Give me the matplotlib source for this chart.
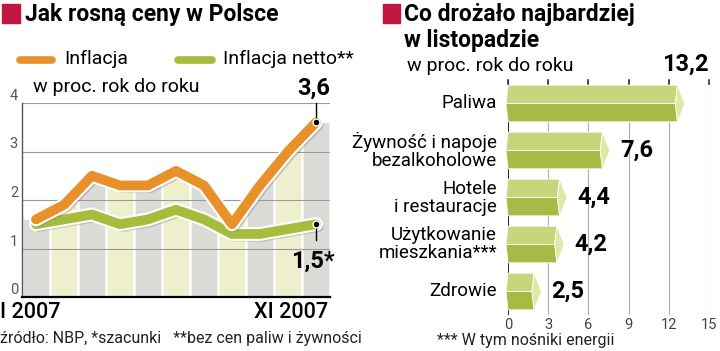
## import area
import numpy as np
import matplotlib
matplotlib.use('Agg')
import matplotlib.pyplot as plt
import matplotlib.patheffects as pe
from matplotlib.lines import Line2D
from matplotlib.patches import Rectangle

plt.rcParams['font.family'] = ['Roboto', 'DejaVu Sans']

## data area
miesiace = ['I', 'II', 'III', 'IV', 'V', 'VI', 'VII', 'VIII', 'IX', 'X', 'XI']
inflacja = [1.6, 1.9, 2.5, 2.3, 2.3, 2.6, 2.3, 1.5, 2.3, 3.0, 3.6]
inflacja_netto = [1.5, 1.6, 1.7, 1.5, 1.6, 1.8, 1.6, 1.3, 1.3, 1.4, 1.5]
y_ticks = [0, 1, 2, 3, 4]

kategorie = ['Paliwa', 'Żywność i napoje\nbezalkoholowe', 'Hotele\ni restauracje',
             'Użytkowanie\nmieszkania***', 'Zdrowie']
wartosci = [13.2, 7.6, 4.4, 4.2, 2.5]
x_ticks = [0, 3, 6, 9, 12, 15]

## colours
ORANGE = '#e8912b'
GREEN = '#a6bc3c'
CRIMSON = '#c0163f'
STRIPE_GRAY = '#dbdbd8'
STRIPE_YEL = '#eef0cd'
BAR_TOP = '#c7d67a'
BAR_BOT = '#a8b946'
BAR_CAP = '#e0e8a6'

W, H = 720, 351
fig = plt.figure(figsize=(W / 100, H / 100), dpi=100)


def fx(px):
    return px / W


def fy(py):
    return 1 - py / H


def fmt(v):
    return f'{v:.1f}'.replace('.', ',')


## header texts
fig.add_artist(Rectangle((fx(2), fy(23)), fx(18), 19 / H, color=CRIMSON, transform=fig.transFigure))
fig.text(fx(25), fy(15), 'Jak rosną ceny w Polsce', fontsize=16.5, fontweight='bold', va='center')
fig.add_artist(Rectangle((fx(383), fy(23)), fx(17), 19 / H, color=CRIMSON, transform=fig.transFigure))
fig.text(fx(404), fy(15), 'Co drożało najbardziej', fontsize=16.5, fontweight='bold', va='center')
fig.text(fx(404), fy(40), 'w listopadzie', fontsize=16.5, fontweight='bold', va='center')

# legenda
fig.add_artist(Line2D([fx(20), fx(52)], [fy(60), fy(60)], lw=5.5, color=ORANGE,
                      solid_capstyle='round', transform=fig.transFigure))
fig.text(fx(64), fy(59), 'Inflacja', fontsize=14, va='center')
fig.add_artist(Line2D([fx(178), fx(212)], [fy(60), fy(60)], lw=5.5, color=GREEN,
                      solid_capstyle='round', transform=fig.transFigure))
fig.text(fx(223), fy(59), 'Inflacja netto**', fontsize=14, va='center')
fig.text(fx(33), fy(87), 'w proc. rok do roku', fontsize=14, va='center')
fig.text(fx(407), fy(66), 'w proc. rok do roku', fontsize=14, va='center')

## left chart
ax1 = fig.add_axes([fx(22), fy(297), fx(308), 194 / H])
x = np.arange(len(miesiace))
ax1.set_xlim(-0.5, len(miesiace) - 0.5)
ax1.set_ylim(0, 4)

# paski pod linią inflacji
for i in x:
    xs = [i - 0.46, i, i + 0.46]
    ys = np.interp(xs, x, inflacja)
    ax1.fill_between(xs, 0, ys, color=STRIPE_GRAY if i % 2 == 0 else STRIPE_YEL, lw=0, zorder=1)

for v in y_ticks[1:]:
    ax1.axhline(v, color='#9a9a9a', lw=0.8, zorder=2)
for v in y_ticks:
    ax1.text(-0.026, v, str(v), transform=ax1.get_yaxis_transform(), ha='center', va='bottom',
             fontsize=10.5, color='#555555')

effects = [pe.SimpleLineShadow(offset=(2, -2), shadow_color='#777777', alpha=0.35),
           pe.Stroke(linewidth=10, foreground='white'), pe.Normal()]
ax1.plot(x, inflacja_netto, color=GREEN, lw=7, solid_capstyle='round', solid_joinstyle='round',
         path_effects=effects, zorder=3)
ax1.plot(x, inflacja, color=ORANGE, lw=7, solid_capstyle='round', solid_joinstyle='round',
         path_effects=effects, zorder=4)

# końcówki
ax1.plot([x[-1], x[-1]], [inflacja[-1], 4.0], color='black', lw=1, zorder=5, clip_on=False)
ax1.plot([x[-1], x[-1]], [inflacja_netto[-1], 1.17], color='black', lw=1, zorder=5, clip_on=False)
ax1.plot([x[-1], x[-1]], [inflacja[-1], inflacja_netto[-1]], 'o', color='black', ms=5,
         mec='white', mew=1, zorder=6)
ax1.text(x[-1] + 0.5, 4.06, fmt(inflacja[-1]), ha='right', va='bottom', fontsize=17,
         fontweight='bold', clip_on=False)
ax1.text(x[-1] + 0.68, 0.5, fmt(inflacja_netto[-1]) + '*', ha='right', va='bottom', fontsize=17,
         fontweight='bold', clip_on=False)

for s in ['top', 'right']:
    ax1.spines[s].set_visible(False)
ax1.spines['left'].set_color('#555555')
ax1.spines['left'].set_linewidth(1)
ax1.spines['bottom'].set_color('black')
ax1.spines['bottom'].set_linewidth(1.6)
ax1.set_xticks([])
ax1.set_yticks([])

fig.text(fx(0), fy(312), miesiace[0] + ' 2007', fontsize=15.5, fontweight='medium', va='center')
fig.text(fx(328), fy(312), miesiace[-1] + ' 2007', fontsize=15.5, fontweight='medium', va='center', ha='right')
fig.text(fx(0), fy(339), 'źródło: NBP, *szacunki   **bez cen paliw i żywności', fontsize=11.5,
         va='center', color='#222222')

## right chart
ax2 = fig.add_axes([fx(508), fy(315), fx(201), 235 / H])
ax2.set_xlim(0, 15)
ax2.set_ylim(len(kategorie) - 0.5, -0.5)
for v in x_ticks[1:]:
    ax2.axvline(v, color='#b0b0b0', lw=0.8, zorder=1)
ax2.axvline(0, color='black', lw=1.2, zorder=1)

h = 0.39
d = 0.55
e = 0.15
for i, v in enumerate(wartosci):
    top = [(-e, i), (0, i - h), (v - d, i - h), (v - d - 0.3 * d, i)]
    bot = [(-e, i), (v - d - 0.3 * d, i), (v - d, i + h), (0, i + h)]
    cap = [(v - d, i - h), (v, i), (v - d, i + h), (v - d - 0.3 * d, i)]
    for poly, col in [(top, BAR_TOP), (bot, BAR_BOT), (cap, BAR_CAP)]:
        px, py = zip(*poly)
        ax2.fill(px, py, color=col, ec='white', lw=0.6, zorder=3, clip_on=False)
    ax2.annotate(kategorie[i], (0, i), xytext=(-11, 0), textcoords='offset pixels', ha='right',
                 va='center', fontsize=13.5, linespacing=1.0, annotation_clip=False)
    if i == 0:
        ax2.text(1.0, 1.02, fmt(v), transform=ax2.transAxes, ha='right', va='bottom', fontsize=17,
                 fontweight='bold')
    else:
        ax2.annotate(fmt(v), (v, i), xytext=(10, 0), textcoords='offset pixels', ha='left',
                     va='center', fontsize=17, fontweight='bold', annotation_clip=False)

for s in ax2.spines.values():
    s.set_visible(False)
ax2.set_yticks([])
ax2.set_xticks(x_ticks)
ax2.set_xticklabels([str(t) for t in x_ticks], fontsize=10.5, color='#444444')
ax2.tick_params(axis='x', length=0, pad=2)
for t in x_ticks:
    ax2.plot([t, t], [-0.5, -0.42], color='#333333', lw=1.2, zorder=2, clip_on=False)

fig.text(fx(437), fy(341), '*** W tym nośniki energii', fontsize=11.5, va='center', color='#222222')

fig.savefig('out.png', dpi=100)
